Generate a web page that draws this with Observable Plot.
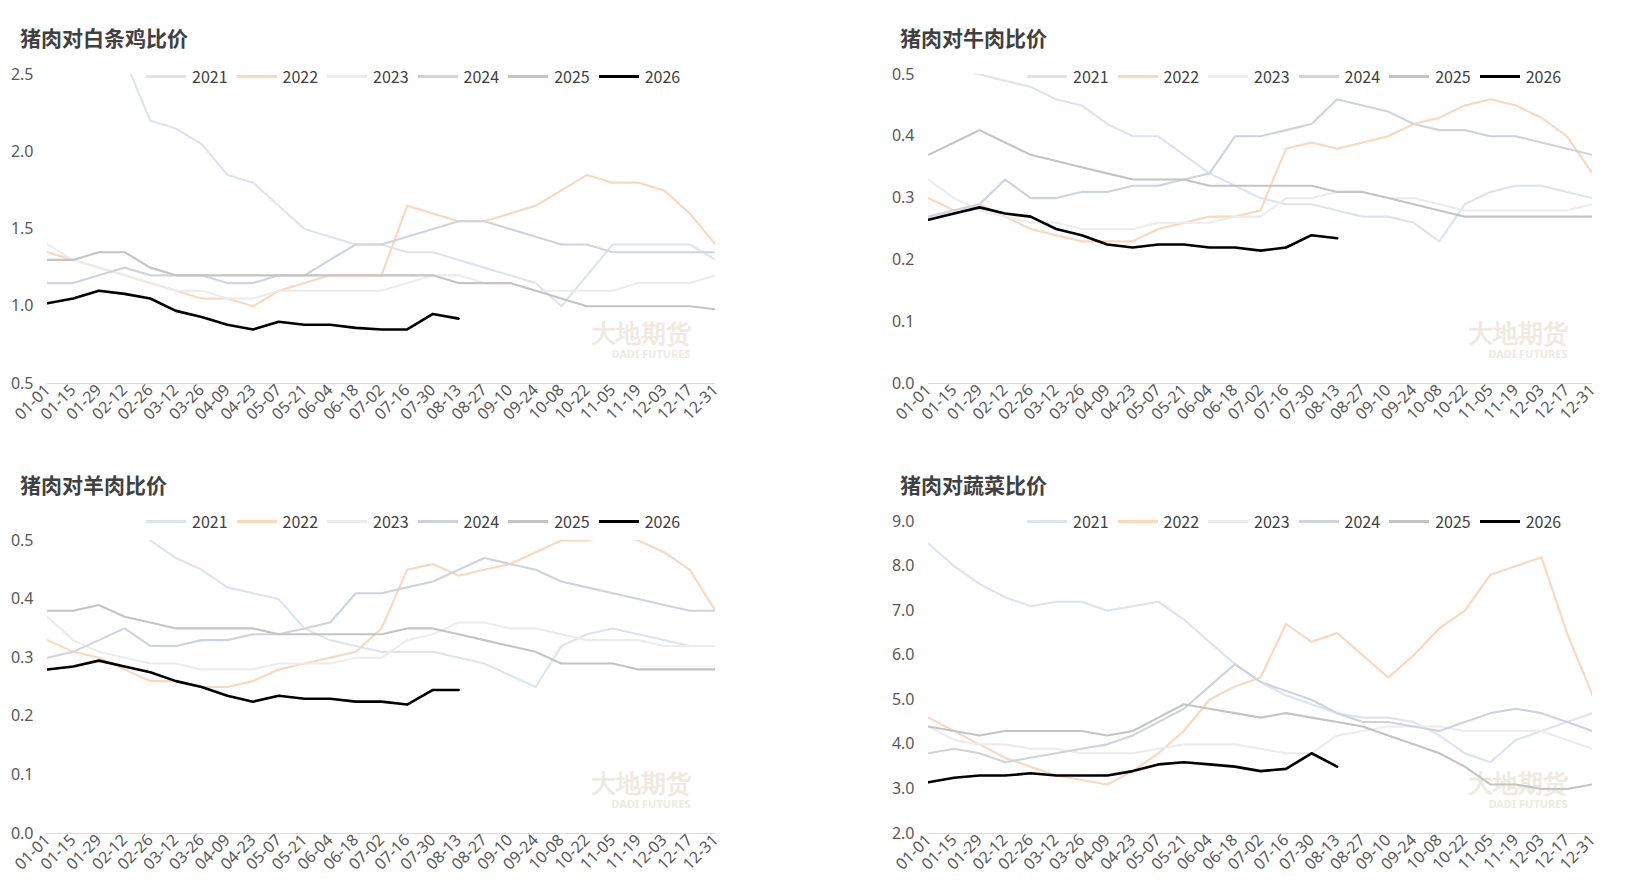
<!DOCTYPE html>
<html><head><meta charset="utf-8">
<script src="https://cdn.jsdelivr.net/npm/d3@7"></script>
<script src="https://cdn.jsdelivr.net/npm/@observablehq/plot@0.6"></script>
<style>
body{margin:0;background:#fff;font-family:"Noto Sans CJK SC","Noto Sans",sans-serif;}
.panel{position:absolute;}
.title{position:absolute;font-size:21px;font-weight:bold;color:#404040;white-space:nowrap}
.legend{position:absolute;display:flex;gap:9px;font-size:16px;color:#404040;align-items:center}
.legend span{display:flex;align-items:center;gap:6px}
.legend i{display:inline-block;width:40px;height:3px}
</style></head><body>
<script>
const years = ["2021","2022","2023","2024","2025","2026"];
const colors = ["#dae5f1","#fbd7bb","#ececec","#cdd4df","#c4c4c4","#000000"];
const tickDays = d3.range(0, 365, 14);
const tickLabels = ["01-01","01-15","01-29","02-12","02-26","03-12","03-26","04-09","04-23","05-07","05-21","06-04","06-18","07-02","07-16","07-30","08-13","08-27","09-10","09-24","10-08","10-22","11-05","11-19","12-03","12-17","12-31"];

const chicken2021 = [null,null,null,2.6,2.2,2.15,2.05,1.85,1.8,1.65,1.5,1.45,1.4,1.4,1.35,1.35,1.3,1.25,1.2,1.15,1.0,1.2,1.4,1.4,1.4,1.4,1.3];
const chicken2022 = [1.35,1.3,1.25,1.2,1.15,1.1,1.05,1.05,1.0,1.1,1.15,1.2,1.2,1.2,1.65,1.6,1.55,1.55,1.6,1.65,1.75,1.85,1.8,1.8,1.75,1.6,1.4];
const chicken2023 = [1.4,1.3,1.25,1.2,1.15,1.1,1.1,1.05,1.05,1.1,1.1,1.1,1.1,1.1,1.15,1.2,1.2,1.15,1.15,1.1,1.1,1.1,1.1,1.15,1.15,1.15,1.2];
const chicken2024 = [1.15,1.15,1.2,1.25,1.2,1.2,1.2,1.15,1.15,1.2,1.2,1.3,1.4,1.4,1.45,1.5,1.55,1.55,1.5,1.45,1.4,1.4,1.35,1.35,1.35,1.35,1.35];
const chicken2025 = [1.3,1.3,1.35,1.35,1.25,1.2,1.2,1.2,1.2,1.2,1.2,1.2,1.2,1.2,1.2,1.2,1.15,1.15,1.15,1.1,1.05,1.0,1.0,1.0,1.0,1.0,0.98];
const chicken2026 = [1.02,1.05,1.1,1.08,1.05,0.97,0.93,0.88,0.85,0.9,0.88,0.88,0.86,0.85,0.85,0.95,0.92];

const beef2021 = [0.52,0.51,0.5,0.49,0.48,0.46,0.45,0.42,0.4,0.4,0.37,0.34,0.32,0.3,0.29,0.29,0.28,0.27,0.27,0.26,0.23,0.29,0.31,0.32,0.32,0.31,0.3];
const beef2022 = [0.3,0.28,0.29,0.27,0.25,0.24,0.23,0.23,0.23,0.25,0.26,0.27,0.27,0.28,0.38,0.39,0.38,0.39,0.4,0.42,0.43,0.45,0.46,0.45,0.43,0.4,0.34];
const beef2023 = [0.33,0.3,0.28,0.27,0.26,0.26,0.25,0.25,0.25,0.26,0.26,0.26,0.27,0.27,0.3,0.3,0.31,0.31,0.3,0.3,0.29,0.28,0.28,0.28,0.28,0.28,0.29];
const beef2024 = [0.27,0.28,0.29,0.33,0.3,0.3,0.31,0.31,0.32,0.32,0.33,0.34,0.4,0.4,0.41,0.42,0.46,0.45,0.44,0.42,0.41,0.41,0.4,0.4,0.39,0.38,0.37];
const beef2025 = [0.37,0.39,0.41,0.39,0.37,0.36,0.35,0.34,0.33,0.33,0.33,0.32,0.32,0.32,0.32,0.32,0.31,0.31,0.3,0.29,0.28,0.27,0.27,0.27,0.27,0.27,0.27];
const beef2026 = [0.265,0.275,0.285,0.275,0.27,0.25,0.24,0.225,0.22,0.225,0.225,0.22,0.22,0.215,0.22,0.24,0.235];

const lamb2021 = [null,null,null,0.55,0.5,0.47,0.45,0.42,0.41,0.4,0.35,0.33,0.32,0.31,0.31,0.31,0.3,0.29,0.27,0.25,0.32,0.34,0.35,0.34,0.33,0.32,0.32];
const lamb2022 = [0.33,0.31,0.3,0.28,0.26,0.26,0.25,0.25,0.26,0.28,0.29,0.3,0.31,0.35,0.45,0.46,0.44,0.45,0.46,0.48,0.5,0.5,0.51,0.5,0.48,0.45,0.38];
const lamb2023 = [0.37,0.33,0.31,0.3,0.29,0.29,0.28,0.28,0.28,0.29,0.29,0.29,0.3,0.3,0.33,0.34,0.36,0.36,0.35,0.35,0.34,0.33,0.33,0.33,0.32,0.32,0.32];
const lamb2024 = [0.3,0.31,0.33,0.35,0.32,0.32,0.33,0.33,0.34,0.34,0.35,0.36,0.41,0.41,0.42,0.43,0.45,0.47,0.46,0.45,0.43,0.42,0.41,0.4,0.39,0.38,0.38];
const lamb2025 = [0.38,0.38,0.39,0.37,0.36,0.35,0.35,0.35,0.35,0.34,0.34,0.34,0.34,0.34,0.35,0.35,0.34,0.33,0.32,0.31,0.29,0.29,0.29,0.28,0.28,0.28,0.28];
const lamb2026 = [0.28,0.285,0.295,0.285,0.275,0.26,0.25,0.235,0.225,0.235,0.23,0.23,0.225,0.225,0.22,0.245,0.245];

const veg2021 = [8.5,8.0,7.6,7.3,7.1,7.2,7.2,7.0,7.1,7.2,6.8,6.3,5.8,5.4,5.1,4.9,4.7,4.6,4.6,4.5,4.2,3.8,3.6,4.1,4.3,4.5,4.7];
const veg2022 = [4.6,4.3,4.0,3.7,3.5,3.3,3.2,3.1,3.4,3.8,4.3,5.0,5.3,5.5,6.7,6.3,6.5,6.0,5.5,6.0,6.6,7.0,7.8,8.0,8.2,6.5,5.1];
const veg2023 = [4.4,4.1,4.0,4.0,3.9,3.9,3.8,3.8,3.8,3.9,4.0,4.0,4.0,3.9,3.8,3.8,4.2,4.3,4.4,4.4,4.4,4.3,4.3,4.3,4.3,4.1,3.9];
const veg2024 = [3.8,3.9,3.8,3.6,3.7,3.8,3.9,4.0,4.2,4.5,4.8,5.3,5.8,5.4,5.2,5.0,4.7,4.5,4.5,4.4,4.3,4.5,4.7,4.8,4.7,4.5,4.3];
const veg2025 = [4.4,4.3,4.2,4.3,4.3,4.3,4.3,4.2,4.3,4.6,4.9,4.8,4.7,4.6,4.7,4.6,4.5,4.4,4.2,4.0,3.8,3.5,3.1,3.1,3.0,3.0,3.1];
const veg2026 = [3.15,3.25,3.3,3.3,3.35,3.3,3.3,3.3,3.4,3.55,3.6,3.55,3.5,3.4,3.45,3.8,3.5];

const panels = [
 {title:"猪肉对白条鸡比价", series:[chicken2021,chicken2022,chicken2023,chicken2024,chicken2025,chicken2026], domain:[0.5,2.5], ticks:[0.5,1.0,1.5,2.0,2.5], left:0, top:0, mt:74, bottom:383, legTop:64},
 {title:"猪肉对牛肉比价", series:[beef2021,beef2022,beef2023,beef2024,beef2025,beef2026], domain:[0,0.5], ticks:[0,0.1,0.2,0.3,0.4,0.5], left:880, top:0, mt:74, bottom:383, legTop:64},
 {title:"猪肉对羊肉比价", series:[lamb2021,lamb2022,lamb2023,lamb2024,lamb2025,lamb2026], domain:[0,0.5], ticks:[0,0.1,0.2,0.3,0.4,0.5], left:0, top:447, mt:93, bottom:386, legTop:62},
 {title:"猪肉对蔬菜比价", series:[veg2021,veg2022,veg2023,veg2024,veg2025,veg2026], domain:[2,9], ticks:[2,3,4,5,6,7,8,9], left:880, top:447, mt:74, bottom:386, legTop:62}
];

for (const p of panels) {
  const W = p.left === 0 ? 730 : 727;
  const H = p.bottom + 66;
  const div = document.createElement("div");
  div.className = "panel";
  div.style.left = p.left + "px"; div.style.top = p.top + "px";
  div.style.width = W + "px"; div.style.height = H + "px";
  const rows = [];
  p.series.forEach((arr, i) => arr.forEach((v, j) => { if (v != null) rows.push({year: years[i], day: tickDays[j], v}); }));
  const svg = Plot.plot({
    width: W, height: H,
    marginLeft: p.left === 0 ? 47 : 48, marginRight: 15, marginTop: p.mt, marginBottom: H - p.bottom,
    style: {fontFamily: "Noto Sans, sans-serif", fontSize: "16px", color: "#595959", maxWidth: "none"},
    x: {domain: [0, 364], ticks: tickDays, tickFormat: d => tickLabels[d / 14], tickRotate: -45, tickSize: 0, label: null, tickPadding: 4},
    y: {domain: p.domain, ticks: p.ticks, tickFormat: d3.format(".1f"), tickSize: 0, label: null, tickPadding: 14},
    marks: [
      Plot.ruleY([p.domain[0]], {stroke: "#d9d9d9"}),
      Plot.text(["大地期货"], {frameAnchor: "bottom-right", dx: -25, dy: -42, fill: "#efeadf", fontSize: 25, fontWeight: "bold"}),
      Plot.text(["DADI FUTURES"], {frameAnchor: "bottom-right", dx: -25, dy: -26, fill: "#efeadf", fontSize: 11, fontWeight: "bold"}),
      ...years.map((y, i) => Plot.lineY(rows.filter(r => r.year === y), {x: "day", y: "v", stroke: colors[i], strokeWidth: i === 5 ? 2.6 : 2.1, clip: true}))
    ]
  });
  svg.style.position = "absolute"; svg.style.left = "0px"; svg.style.top = "0px";
  div.appendChild(svg);
  const t = document.createElement("div"); t.className = "title"; t.textContent = p.title;
  t.style.left = "20px"; t.style.top = "22px"; div.appendChild(t);
  const lg = document.createElement("div"); lg.className = "legend";
  lg.style.left = (p.left === 0 ? 146 : 147) + "px"; lg.style.top = p.legTop + "px";
  years.forEach((y, i) => { const s = document.createElement("span"); s.innerHTML = `<i style="background:${colors[i]}"></i>${y}`; lg.appendChild(s); });
  div.appendChild(lg);
  document.body.appendChild(div);
}
</script>
</body></html>
